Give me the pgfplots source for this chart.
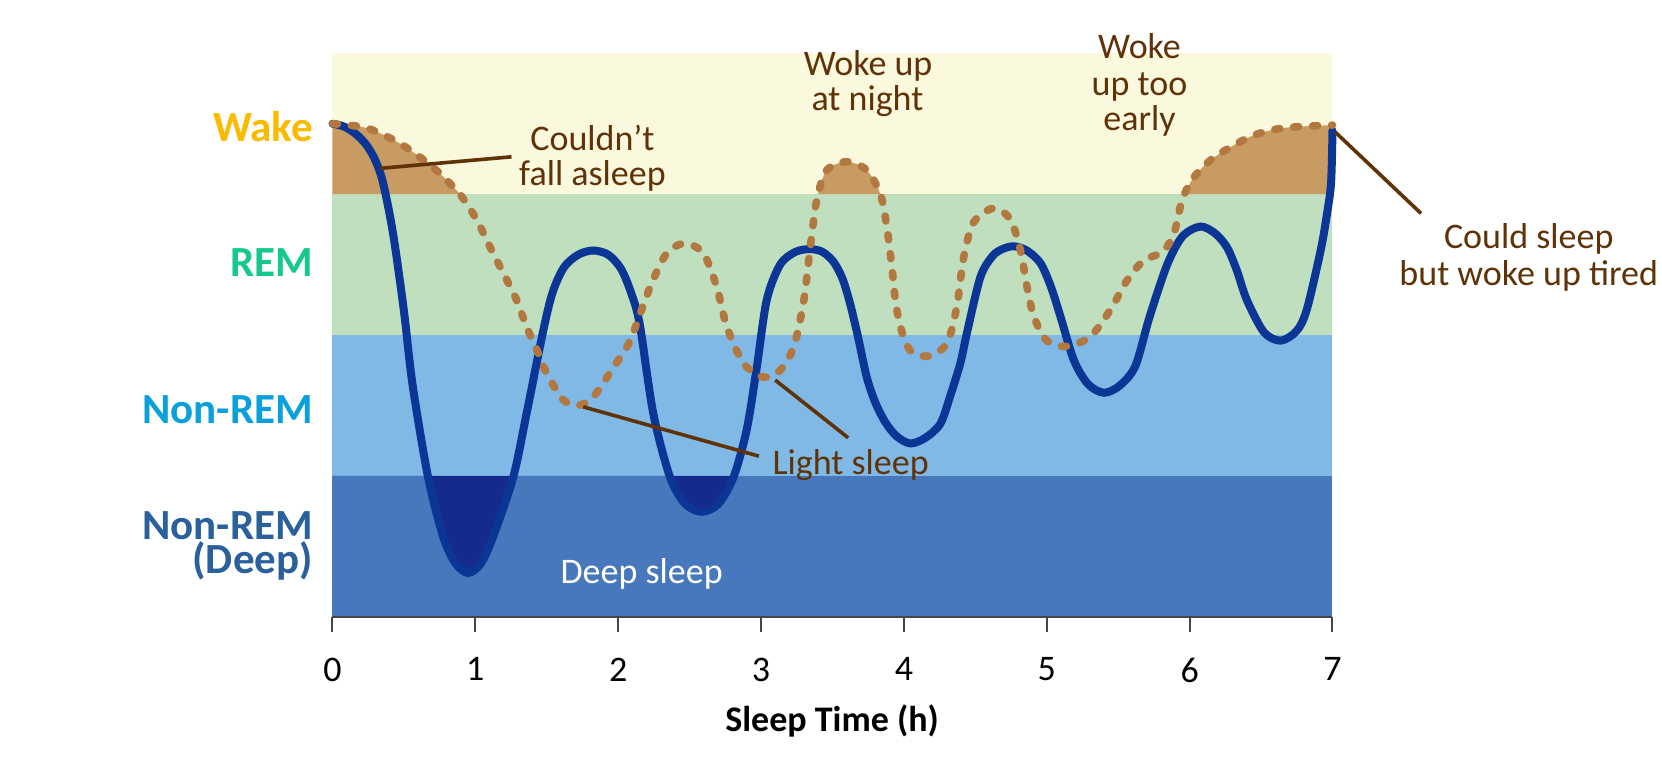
\documentclass[border=0pt]{standalone}
\usepackage{pgfplots}
\pgfplotsset{compat=1.18}
\usepackage{pgfplotstable}
\usepgfplotslibrary{fillbetween}
\usepackage{fontspec}
\setmainfont{Carlito}
\definecolor{wakebg}{RGB}{250,249,222}
\definecolor{rembg}{RGB}{191,223,190}
\definecolor{nrembg}{RGB}{128,185,230}
\definecolor{deepbg}{RGB}{72,120,188}
\definecolor{brownfill}{RGB}{200,155,98}
\definecolor{dashbrown}{RGB}{178,120,64}
\definecolor{blueline}{RGB}{12,54,150}
\definecolor{navyfill}{RGB}{20,42,140}
\definecolor{anno}{RGB}{96,50,8}
\definecolor{wakelbl}{RGB}{250,186,0}
\definecolor{remlbl}{RGB}{20,200,142}
\definecolor{nremlbl}{RGB}{10,160,220}
\definecolor{deeplbl}{RGB}{42,96,156}
\definecolor{tickgray}{RGB}{70,70,70}

\pgfplotstableread{
x y
0.00 3.50
0.08 3.48
0.16 3.43
0.237 3.35
0.30 3.24
0.354 3.08
0.424 2.72
0.50 2.17
0.56 1.65
0.669 0.99
0.774 0.57
0.86 0.38
0.95 0.31
1.04 0.38
1.125 0.57
1.265 0.99
1.358 1.44
1.475 2.03
1.54 2.30
1.62 2.48
1.72 2.57
1.825 2.60
1.93 2.57
2.02 2.47
2.09 2.30
2.15 2.08
2.246 1.44
2.363 0.99
2.47 0.80
2.585 0.745
2.70 0.80
2.807 0.99
2.90 1.33
2.97 1.77
3.04 2.25
3.134 2.50
3.24 2.59
3.344 2.61
3.43 2.59
3.507 2.52
3.57 2.40
3.624 2.22
3.68 1.98
3.74 1.70
3.80 1.52
3.87 1.38
3.95 1.28
4.045 1.23
4.15 1.27
4.255 1.37
4.325 1.57
4.395 1.80
4.44 2.01
4.535 2.41
4.62 2.56
4.69 2.61
4.769 2.63
4.86 2.60
4.956 2.51
5.03 2.34
5.096 2.13
5.19 1.82
5.29 1.65
5.40 1.59
5.51 1.64
5.62 1.78
5.72 2.13
5.843 2.50
5.95 2.70
6.075 2.77
6.18 2.72
6.263 2.62
6.33 2.46
6.40 2.25
6.52 2.02
6.638 1.96
6.75 2.03
6.82 2.18
6.917 2.60
6.96 2.85
6.99 3.08
7.00 3.45
}\bluedata

\pgfplotstableread{
x y
0.00 3.50
0.237 3.47
0.471 3.36
0.704 3.19
0.891 3.00
1.008 2.82
1.10 2.63
1.195 2.44
1.288 2.25
1.358 2.06
1.428 1.90
1.498 1.73
1.615 1.54
1.72 1.50
1.825 1.56
1.966 1.77
2.083 1.96
2.223 2.34
2.34 2.58
2.468 2.65
2.596 2.58
2.69 2.34
2.76 2.06
2.877 1.80
3.017 1.70
3.134 1.75
3.23 1.92
3.30 2.25
3.344 2.62
3.39 2.96
3.46 3.17
3.60 3.23
3.74 3.17
3.835 3.00
3.88 2.77
3.916 2.48
3.94 2.25
3.975 2.06
4.045 1.89
4.173 1.85
4.30 1.94
4.37 2.20
4.418 2.55
4.488 2.80
4.628 2.90
4.745 2.82
4.816 2.60
4.862 2.34
4.91 2.13
5.00 1.96
5.143 1.92
5.306 1.99
5.446 2.18
5.563 2.39
5.68 2.53
5.81 2.59
5.89 2.72
5.948 2.96
6.03 3.12
6.17 3.26
6.43 3.41
6.66 3.47
7.00 3.49
}\dashdata

\begin{document}
\begin{tikzpicture}
\begin{axis}[
  at={(0,0)}, anchor=south west,
  set layers,
  scale only axis, width=500pt, height=281.7pt,
  xmin=0, xmax=7, ymin=0, ymax=4,
  clip=false,
  axis x line*=bottom, axis y line*=left,
  x axis line style={draw=none}, y axis line style={draw=none},
  ytick=\empty,
  xtick={0,1,...,7},
  tick align=outside,
  major tick length=7.5pt,
  xtick style={draw=tickgray, line width=1pt},
  xticklabel style={font=\fontsize{18}{21}\selectfont, text=black, yshift=-9.5pt},
  /pgf/number format/assume math mode=true,
]
\begin{pgfonlayer}{axis background}
\fill[wakebg] (axis cs:0,3) rectangle (axis cs:7,4);
\fill[rembg] (axis cs:0,2) rectangle (axis cs:7,3);
\fill[nrembg] (axis cs:0,1) rectangle (axis cs:7,2);
\fill[deepbg] (axis cs:0,0) rectangle (axis cs:7,1);
\end{pgfonlayer}

\addplot[draw=none, smooth, name path=B] table {\bluedata};
\addplot[draw=none, smooth, name path=D] table {\dashdata};
\path[name path=L1] (axis cs:-0.5,1) -- (axis cs:7.5,1);
\path[name path=L3] (axis cs:-0.5,3) -- (axis cs:7.5,3);
\addplot[fill=navyfill, draw=none] fill between[of=B and L1, split, soft clip={(axis cs:0,0) rectangle (axis cs:7,1)}];
\addplot[fill=brownfill, draw=none] fill between[of=D and L3, split, soft clip={(axis cs:0,3) rectangle (axis cs:7,4.5)}];

\addplot[blueline, line width=4pt, smooth, line cap=round] table {\bluedata};
\addplot[dashbrown, line width=3.8pt, smooth, line cap=round, dash pattern=on 2.5pt off 7pt] table {\dashdata};

\draw[tickgray, line width=1pt] (axis cs:0,0) -- (axis cs:7,0);

% leaders
\draw[anno, line width=1.8pt] (axis cs:0.331,3.183) -- (axis cs:1.253,3.265);
\draw[anno, line width=1.8pt] (axis cs:1.755,1.49) -- (axis cs:2.985,1.14);
\draw[anno, line width=1.8pt] (axis cs:3.099,1.68) -- (axis cs:3.61,1.27);
\draw[anno, line width=1.8pt] (axis cs:7.02,3.44) -- (axis cs:7.62,2.863);

% annotations
\begin{scope}[every node/.style={inner sep=0pt, anchor=base, text=anno, font=\fontsize{18}{21}\selectfont}]
\node at (axis cs:1.82,3.311) {Couldn’t};
\node at (axis cs:1.82,3.064) {fall asleep};
\node at (axis cs:3.749,3.844) {Woke up};
\node at (axis cs:3.745,3.596) {at night};
\node at (axis cs:5.649,3.963) {Woke};
\node at (axis cs:5.649,3.70) {up too};
\node at (axis cs:5.649,3.455) {early};
\node at (axis cs:8.374,2.614) {Could sleep};
\node at (axis cs:8.374,2.354) {but woke up tired};
\node at (axis cs:3.627,1.013) {Light sleep};
\node[text=white] at (axis cs:2.164,0.237) {Deep sleep};
\end{scope}

% stage labels
\begin{scope}[every node/.style={inner sep=0pt, anchor=base east, font=\bfseries\fontsize{21.5}{25}\selectfont}]
\node[text=wakelbl] at (axis cs:-0.135,3.371) {Wake};
\node[text=remlbl] at (axis cs:-0.135,2.418) {REM};
\node[text=nremlbl] at (axis cs:-0.135,1.372) {Non-REM};
\node[text=deeplbl, align=right, font=\bfseries\fontsize{21.5}{16.8}\selectfont] at (axis cs:-0.135,0.308) {Non-REM\\(Deep)};
\end{scope}

\node[inner sep=0pt, anchor=base, font=\bfseries\fontsize{18}{21}\selectfont] at (axis cs:3.497,-0.815) {Sleep Time (h)};
\end{axis}
\pgfresetboundingbox
\useasboundingbox (-166.25pt,-72.15pt) rectangle (664.75pt,308.35pt);
\end{tikzpicture}
\end{document}
